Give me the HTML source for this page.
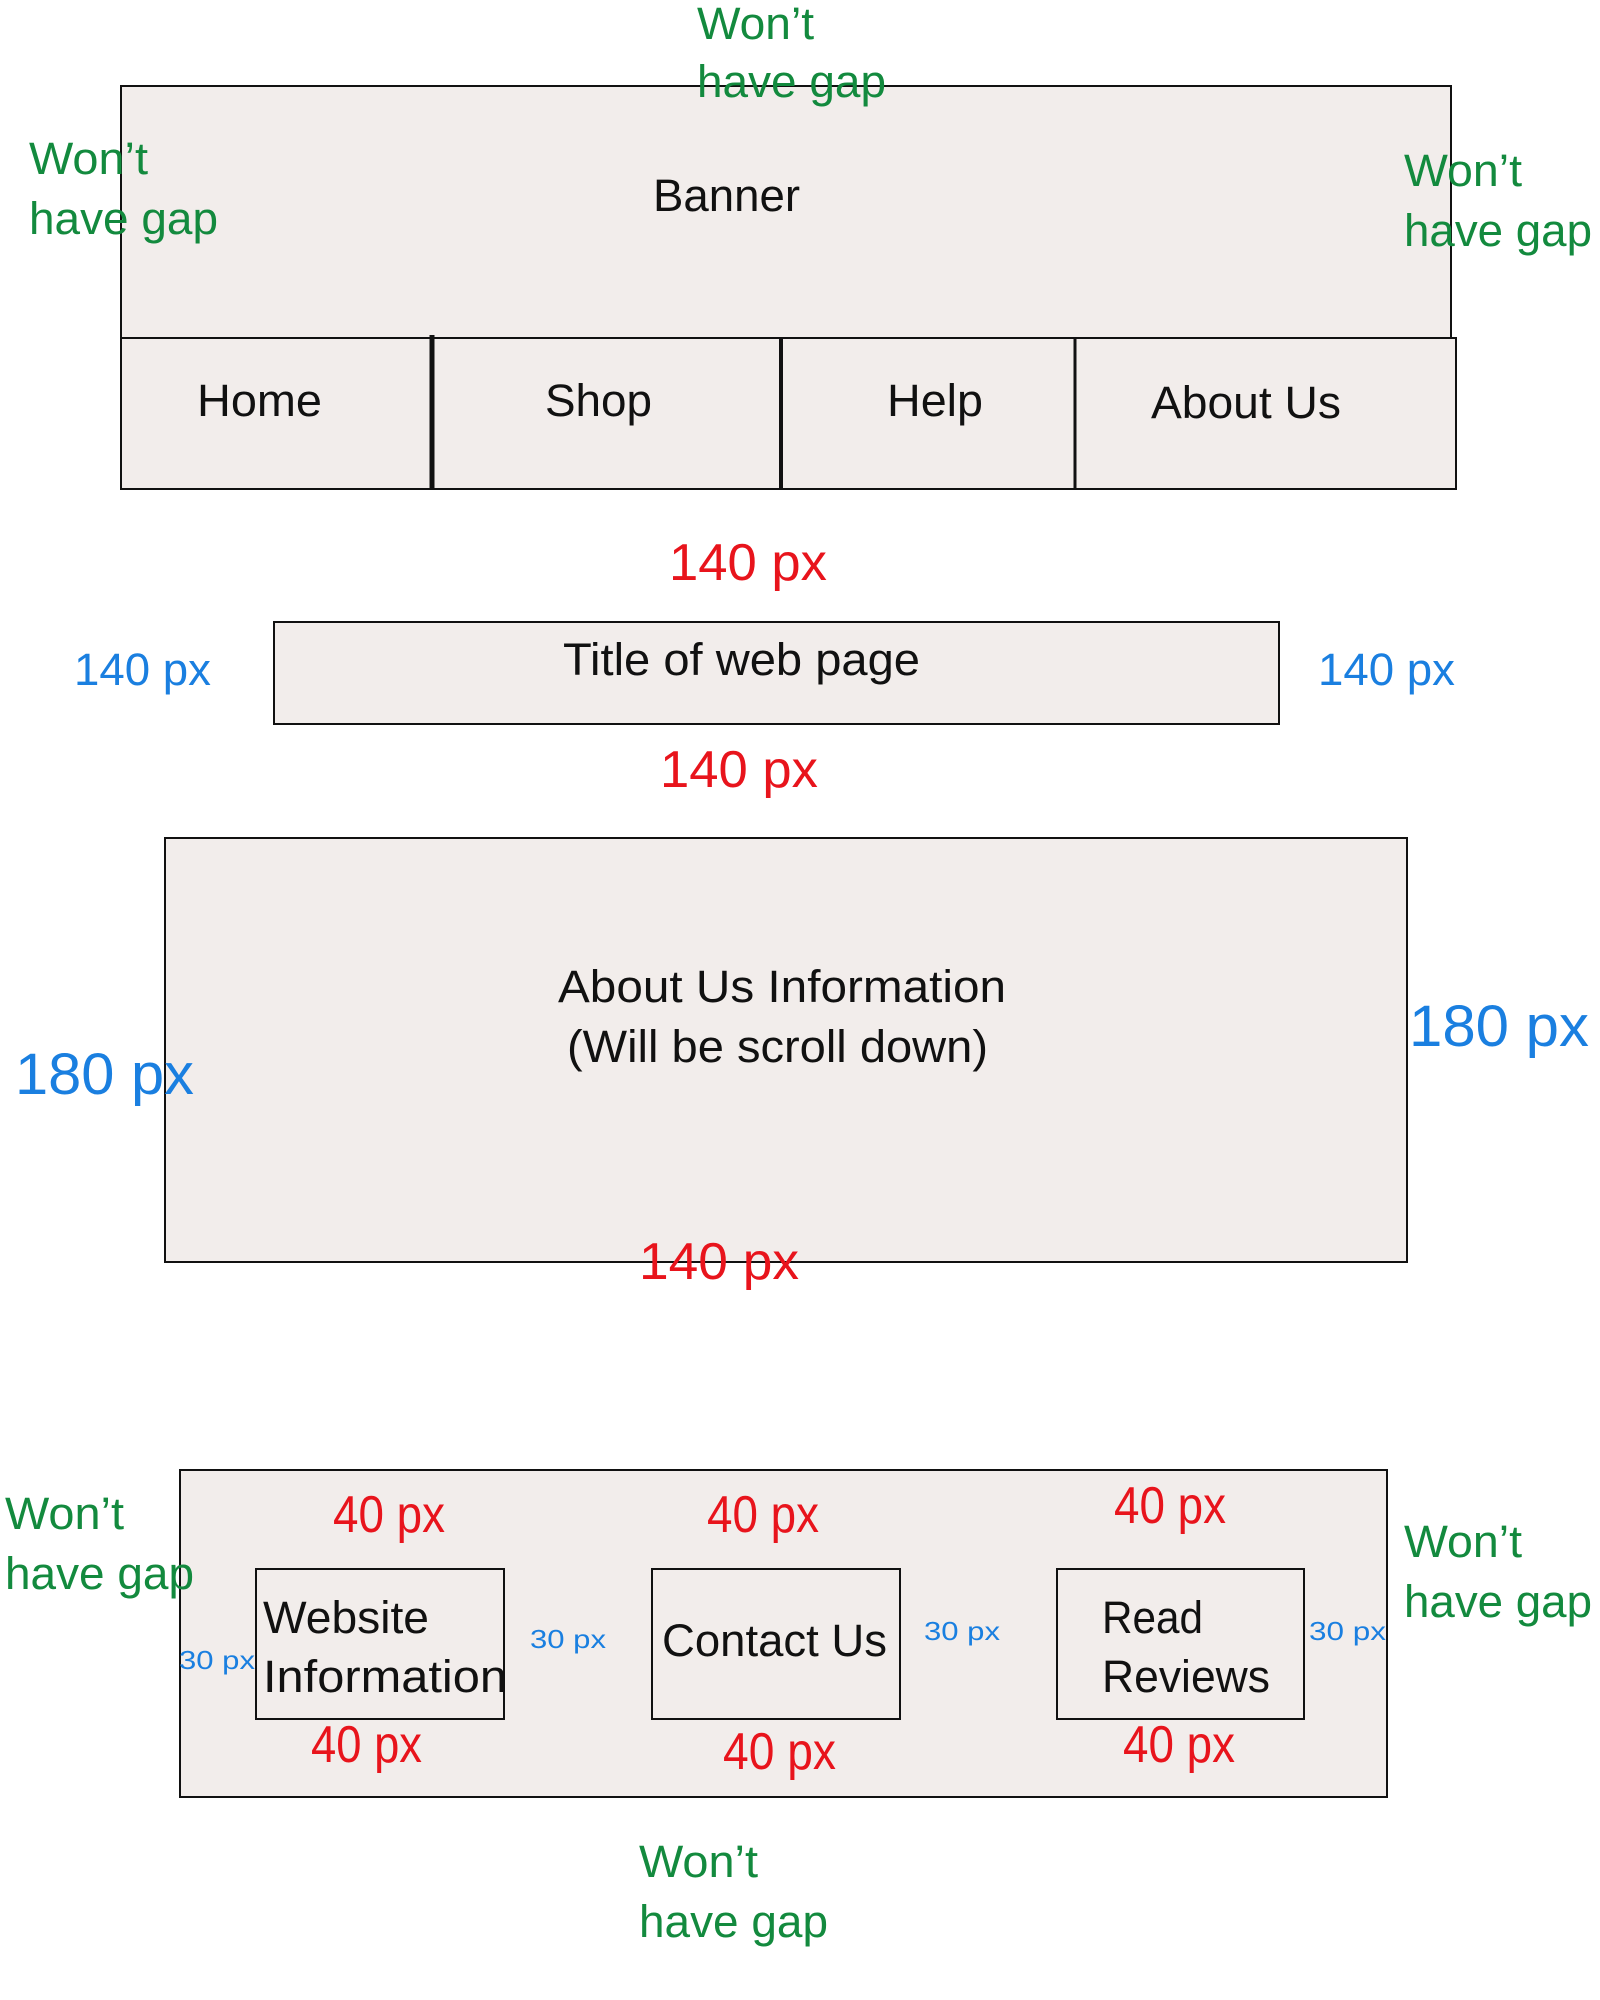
<!DOCTYPE html>
<html><head><meta charset="utf-8"><style>
html,body{margin:0;padding:0;background:#fff;}
svg{display:block;}
text{font-family:"Liberation Sans",sans-serif;}
.g{fill:#138a3e;font-size:45px;}
.r{fill:#e8141c;font-size:52px;}
.b{fill:#1a7fe0;}
.k{fill:#111;font-size:45px;}
</style></head><body>
<svg width="1600" height="2000" viewBox="0 0 1600 2000" xmlns="http://www.w3.org/2000/svg">
<g fill="#f2edeb" stroke="#111" stroke-width="2">
<rect x="121" y="86" width="1330" height="252"/>
<rect x="121" y="338" width="1335" height="151"/>
<rect x="274" y="622" width="1005" height="102"/>
<rect x="165" y="838" width="1242" height="424"/>
<rect x="180" y="1470" width="1207" height="327"/>
<rect x="256" y="1569" width="248" height="150"/>
<rect x="652" y="1569" width="248" height="150"/>
<rect x="1057" y="1569" width="247" height="150"/>
</g>
<line x1="432" y1="335" x2="432" y2="489" stroke="#111" stroke-width="5"/>
<line x1="781" y1="337" x2="781" y2="489" stroke="#111" stroke-width="4"/>
<line x1="1075" y1="338" x2="1075" y2="489" stroke="#111" stroke-width="3"/>
<g transform="translate(0,-3)">
<text class="g" x="697" y="42" textLength="117" lengthAdjust="spacingAndGlyphs">Won’t</text>
<text class="g" x="697" y="100" textLength="189" lengthAdjust="spacingAndGlyphs">have gap</text>
<text class="g" x="29" y="177" textLength="119" lengthAdjust="spacingAndGlyphs">Won’t</text>
<text class="g" x="29" y="237" textLength="189" lengthAdjust="spacingAndGlyphs">have gap</text>
<text class="g" x="1404" y="189" textLength="118" lengthAdjust="spacingAndGlyphs">Won’t</text>
<text class="g" x="1404" y="249" textLength="188" lengthAdjust="spacingAndGlyphs">have gap</text>

<text class="k" x="653" y="214" textLength="147" lengthAdjust="spacingAndGlyphs">Banner</text>
<text class="k" x="197" y="419" textLength="125" lengthAdjust="spacingAndGlyphs">Home</text>
<text class="k" x="545" y="419" textLength="107" lengthAdjust="spacingAndGlyphs">Shop</text>
<text class="k" x="887" y="419" textLength="96" lengthAdjust="spacingAndGlyphs">Help</text>
<text class="k" x="1151" y="421" textLength="190" lengthAdjust="spacingAndGlyphs">About Us</text>

<text class="r" x="669" y="583" textLength="158" lengthAdjust="spacingAndGlyphs">140 px</text>
<text class="k" x="563" y="678" textLength="357" lengthAdjust="spacingAndGlyphs">Title of web page</text>
<text class="b" x="74" y="688" font-size="45" textLength="137" lengthAdjust="spacingAndGlyphs">140 px</text>
<text class="b" x="1318" y="688" font-size="45" textLength="137" lengthAdjust="spacingAndGlyphs">140 px</text>
<text class="r" x="660" y="790" textLength="158" lengthAdjust="spacingAndGlyphs">140 px</text>

<text class="k" x="558" y="1005" textLength="448" lengthAdjust="spacingAndGlyphs">About Us Information</text>
<text class="k" x="567" y="1065" textLength="421" lengthAdjust="spacingAndGlyphs">(Will be scroll down)</text>
<text class="b" x="15" y="1097" font-size="58" textLength="179" lengthAdjust="spacingAndGlyphs">180 px</text>
<text class="b" x="1409" y="1049" font-size="58" textLength="180" lengthAdjust="spacingAndGlyphs">180 px</text>
<text class="r" x="639" y="1282" textLength="160" lengthAdjust="spacingAndGlyphs">140 px</text>

<text class="g" x="5" y="1532" textLength="119" lengthAdjust="spacingAndGlyphs">Won’t</text>
<text class="g" x="5" y="1592" textLength="189" lengthAdjust="spacingAndGlyphs">have gap</text>
<text class="g" x="1404" y="1560" textLength="118" lengthAdjust="spacingAndGlyphs">Won’t</text>
<text class="g" x="1404" y="1620" textLength="188" lengthAdjust="spacingAndGlyphs">have gap</text>
<text class="g" x="639" y="1880" textLength="119" lengthAdjust="spacingAndGlyphs">Won’t</text>
<text class="g" x="639" y="1940" textLength="189" lengthAdjust="spacingAndGlyphs">have gap</text>

<text class="r" x="333" y="1535" font-size="45" textLength="112" lengthAdjust="spacingAndGlyphs">40 px</text>
<text class="r" x="707" y="1535" font-size="45" textLength="112" lengthAdjust="spacingAndGlyphs">40 px</text>
<text class="r" x="1114" y="1526" font-size="45" textLength="112" lengthAdjust="spacingAndGlyphs">40 px</text>
<text class="r" x="311" y="1765" font-size="45" textLength="111" lengthAdjust="spacingAndGlyphs">40 px</text>
<text class="r" x="723" y="1772" font-size="45" textLength="113" lengthAdjust="spacingAndGlyphs">40 px</text>
<text class="r" x="1123" y="1765" font-size="45" textLength="112" lengthAdjust="spacingAndGlyphs">40 px</text>

<text class="b" x="179" y="1672" font-size="26" textLength="76" lengthAdjust="spacingAndGlyphs">30 px</text>
<text class="b" x="530" y="1651" font-size="26" textLength="76" lengthAdjust="spacingAndGlyphs">30 px</text>
<text class="b" x="924" y="1643" font-size="26" textLength="76" lengthAdjust="spacingAndGlyphs">30 px</text>
<text class="b" x="1309" y="1643" font-size="26" textLength="77" lengthAdjust="spacingAndGlyphs">30 px</text>

<text class="k" x="263" y="1636" textLength="166" lengthAdjust="spacingAndGlyphs">Website</text>
<text class="k" x="263" y="1695" textLength="244" lengthAdjust="spacingAndGlyphs">Information</text>
<text class="k" x="662" y="1659" textLength="225" lengthAdjust="spacingAndGlyphs">Contact Us</text>
<text class="k" x="1102" y="1636" textLength="101" lengthAdjust="spacingAndGlyphs">Read</text>
<text class="k" x="1102" y="1695" textLength="168" lengthAdjust="spacingAndGlyphs">Reviews</text>
</g>
</svg>
</body></html>
